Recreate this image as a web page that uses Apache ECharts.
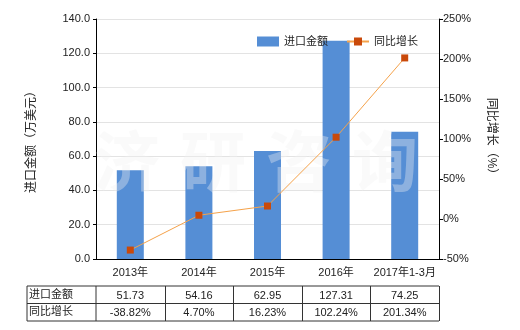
<!DOCTYPE html>
<html><head><meta charset="utf-8">
<script src="https://cdn.jsdelivr.net/npm/echarts@6/dist/echarts.min.js"></script>
<style>html,body{margin:0;padding:0;background:#fff}#c{width:520px;height:330px}</style>
</head><body><div id="c"></div>
<script>
var categories = ['2013年','2014年','2015年','2016年','2017年1-3月'];
var importValues = [51.73, 54.16, 62.95, 127.31, 74.25];
var growthValues = [-38.82, 4.70, 16.23, 102.24, 201.34];
var importLabels = ['51.73','54.16','62.95','127.31','74.25'];
var growthLabels = ['-38.82%','4.70%','16.23%','102.24%','201.34%'];
var seriesNames = ['进口金额','同比增长'];
var leftAxisName = '进口金额（万美元）';
var rightAxisName = '同比增长（%）';
var watermark = '济研咨询';

var FONT = "'Liberation Sans','Noto Sans CJK SC',sans-serif";
var G = {left:96, right:81, top:19, bottom:71};
var W = 520, H = 330;
var plotL = G.left, plotR = W - G.right, plotB = H - G.bottom;
var colW = (plotR - plotL) / categories.length;
var tTop = 286, rowH = 17.5, tLeft = 27;

var graphics = [];
var wmChars = watermark.split('');
for (var k=0;k<wmChars.length;k++){
  graphics.push({type:'text', x:94 + k*86, y:128, z:2, silent:true,
    style:{text: wmChars[k], font:"bold 66px 'Noto Sans CJK SC'", fill:'rgba(241,241,241,0.36)', textVerticalAlign:'top', verticalAlign:'top'}});
}
var lineStyle = {stroke:'#333', lineWidth:1};
function hline(y){graphics.push({type:'line', shape:{x1:tLeft,y1:y,x2:plotR,y2:y}, style:lineStyle});}
function vline(x){graphics.push({type:'line', shape:{x1:x,y1:tTop,x2:x,y2:tTop+2*rowH}, style:lineStyle});}
hline(tTop); hline(tTop+rowH); hline(tTop+2*rowH);
vline(tLeft); vline(plotL);
for (var i=1;i<=categories.length;i++) vline(Math.round(plotL+colW*i)+0.5);
var rows = [importLabels, growthLabels];
for (var r=0;r<2;r++){
  var cy = tTop + rowH*r + rowH/2;
  graphics.push({type:'text', x:tLeft+2, y:cy, style:{text:seriesNames[r], font:"11px "+FONT, fill:'#222', textVerticalAlign:'middle', verticalAlign:'middle'}});
  for (var i=0;i<categories.length;i++){
    graphics.push({type:'text', x:plotL+colW*(i+0.5), y:cy+1, style:{text:rows[r][i], font:"11px "+FONT, fill:'#222', textAlign:'center', align:'center', verticalAlign:'middle', textVerticalAlign:'middle'}});
  }
}

var chart = echarts.init(document.getElementById('c'), null, {renderer:'canvas'});
chart.setOption({
  animation:false,
  backgroundColor:'#fff',
  textStyle:{fontFamily:FONT},
  grid:{left:G.left, right:G.right, top:G.top, bottom:G.bottom},
  legend:{left:252, top:31, itemWidth:22, itemHeight:10, itemGap:18,
    textStyle:{fontSize:11, color:'#222', fontFamily:FONT},
    data:[{name:seriesNames[0], icon:'rect'},{name:seriesNames[1]}]},
  xAxis:{type:'category', data:categories,
    axisLine:{lineStyle:{color:'#000'}},
    axisTick:{alignWithLabel:true, length:5, lineStyle:{color:'#000'}},
    axisLabel:{color:'#222', fontSize:11, margin:8, interval:0}},
  yAxis:[
    {type:'value', min:0, max:140, interval:20, name:leftAxisName, nameLocation:'middle', nameGap:58, nameRotate:90,
     nameTextStyle:{fontSize:12, color:'#222'},
     axisLine:{show:true, lineStyle:{color:'#000'}},
     axisTick:{show:true, length:3, lineStyle:{color:'#000'}},
     axisLabel:{color:'#222', fontSize:11, margin:6, formatter:function(v){return v.toFixed(1);}},
     splitLine:{lineStyle:{color:'#e3e3e3'}}},
    {type:'value', min:-50, max:250, interval:50, name:rightAxisName, nameLocation:'middle', nameGap:46, nameRotate:-90,
     nameTextStyle:{fontSize:12, color:'#222'},
     axisLine:{show:true, lineStyle:{color:'#000'}},
     axisTick:{show:true, length:4, lineStyle:{color:'#000'}},
     axisLabel:{color:'#222', fontSize:11, margin:4, formatter:'{value}%'},
     splitLine:{show:false}}
  ],
  series:[
    {name:seriesNames[0], type:'bar', data:importValues, barWidth:27, itemStyle:{color:'#558ed5'}, z:1},
    {name:seriesNames[1], type:'line', yAxisIndex:1, data:growthValues, symbol:'rect', symbolSize:7,
     lineStyle:{color:'#f5a24a', width:1}, itemStyle:{color:'#c9490a'}, z:3}
  ],
  graphic:graphics
});
</script></body></html>
